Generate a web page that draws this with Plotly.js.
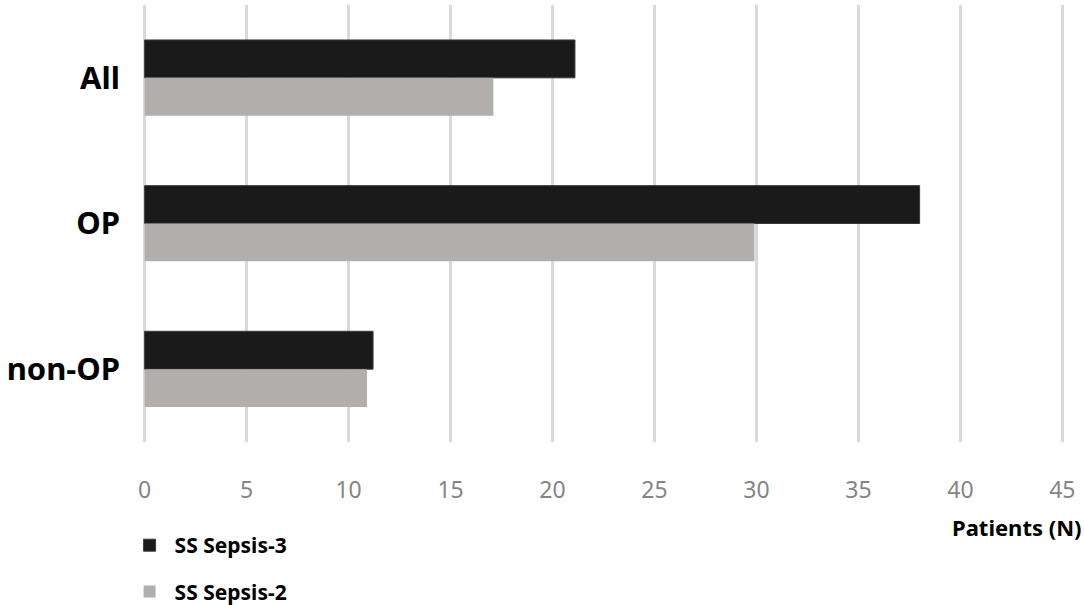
<!DOCTYPE html>
<html>
<head>
<meta charset="utf-8">
<script src="https://cdn.plot.ly/plotly-3.0.1.min.js"></script>
<style>html,body{margin:0;padding:0;background:#fff;}#chart{width:1084px;height:605px;}</style>
</head>
<body>
<div id="chart"></div>
<script>
const categories = ["All", "OP", "non-OP"];
const seriesNames = ["SS Sepsis-3", "SS Sepsis-2"];
const sepsis3 = [21.1, 38.0, 11.2];
const sepsis2 = [17.1, 29.9, 10.9];
const xTicks = [0, 5, 10, 15, 20, 25, 30, 35, 40, 45];
const xTitle = "Patients (N)";

const traces = [
  {type: 'bar', orientation: 'h', name: seriesNames[0], y: categories, x: sepsis3,
   legendgroup: 'a',
   marker: {color: '#1a1a1a', line: {color: '#3a3a3a', width: 1}}},
  {type: 'bar', orientation: 'h', name: seriesNames[1], y: categories, x: sepsis2,
   legendgroup: 'b',
   marker: {color: '#b1aeac', line: {width: 0}}}
];

const layout = {
  width: 1084, height: 605,
  margin: {l: 143, r: 20, t: 5, b: 163, autoexpand: false},
  paper_bgcolor: '#fff', plot_bgcolor: '#fff',
  barmode: 'group', bargap: 0.48, bargroupgap: 0,
  font: {family: 'Noto Sans, sans-serif'},
  xaxis: {range: [-0.08, 45.08], tickvals: xTicks, ticktext: xTicks.map(String), automargin: false,
    showgrid: true, gridcolor: '#d9d9d9', gridwidth: 2.5, zeroline: false,
    showline: false, ticks: '', tickfont: {size: 23, color: '#858585'}, ticklabelstandoff: 32},
  yaxis: {type: 'category', categoryorder: 'array', categoryarray: categories, autorange: 'reversed',
    automargin: false,
    showgrid: false, zeroline: false, showline: false, ticks: '',
    tickfont: {size: 31, color: '#000', weight: 'bold'}, ticklabelstandoff: 22},
  showlegend: true,
  legend: {x: -0.02, xanchor: 'left', y: -0.19, yanchor: 'top', orientation: 'v',
    traceorder: 'grouped', tracegroupgap: 16, itemwidth: 40,
    font: {size: 21, color: '#000', weight: 'bold'}, bgcolor: 'rgba(0,0,0,0)'},
  annotations: [{text: xTitle, xref: 'paper', yref: 'paper', x: 1.022, y: -0.195,
    xanchor: 'right', yanchor: 'middle', showarrow: false,
    font: {size: 22, color: '#000', weight: 'bold'}}]
};

Plotly.newPlot('chart', traces, layout, {displayModeBar: false, staticPlot: true});
</script>
</body>
</html>
